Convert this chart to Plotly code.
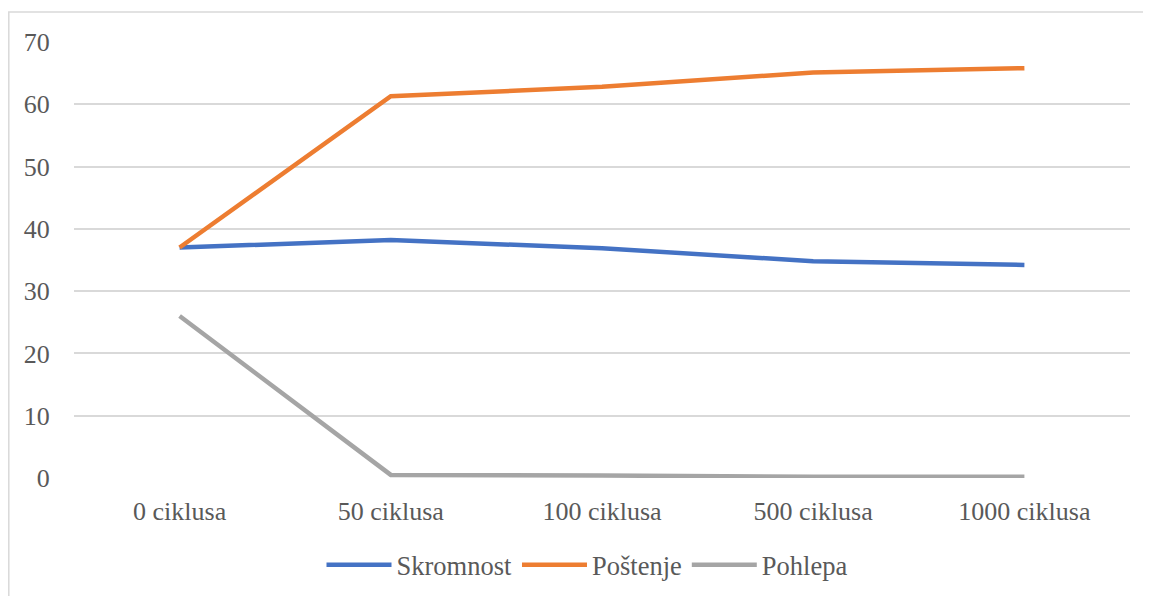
import plotly.graph_objects as go

categories = ["0 ciklusa", "50 ciklusa", "100 ciklusa", "500 ciklusa", "1000 ciklusa"]
skromnost = [37.0, 38.2, 36.9, 34.8, 34.2]
postenje = [37.0, 61.3, 62.8, 65.1, 65.8]
pohlepa = [26.0, 0.5, 0.4, 0.2, 0.2]

series = [
    ("Skromnost", skromnost, "#4472C4"),
    ("Poštenje", postenje, "#ED7D31"),
    ("Pohlepa", pohlepa, "#A5A5A5"),
]

fig = go.Figure()
for name, vals, color in series:
    fig.add_trace(go.Scatter(
        x=categories, y=vals, name=name, mode="lines",
        line=dict(color=color, width=4.5),
    ))

FAMILY = "Liberation Serif"
font = dict(family=FAMILY, size=26, color="#595959")

W, H = 1143, 588
L, R, T, B = 66, 21, 34, 118
PW, PH = W - L - R, H - T - B

fig.update_layout(
    template="none",
    width=W, height=H,
    margin=dict(l=L, r=R, t=T, b=B, autoexpand=False),
    paper_bgcolor="white", plot_bgcolor="white",
    font=font,
    showlegend=True,
    legend=dict(
        orientation="h", x=(579 - L) / PW, xanchor="center", y=-87 / PH, yanchor="middle",
        font=dict(family=FAMILY, size=26.5, color="#595959"),
        itemwidth=65, traceorder="normal",
    ),
    xaxis=dict(
        type="category", showgrid=False, zeroline=False, showline=False,
        ticks="outside", ticklen=10, tickcolor="rgba(0,0,0,0)",
        tickfont=font, range=[-0.5, 4.5],
    ),
    yaxis=dict(
        range=[0, 70], dtick=10, showgrid=True, gridcolor="#D9D9D9", gridwidth=1.5,
        zeroline=False, showline=False,
        ticks="outside", ticklen=18, tickcolor="rgba(0,0,0,0)",
        tickfont=font,
    ),
    shapes=[dict(
        type="rect", xref="paper", yref="paper",
        x0=(0.8 - L) / PW, x1=1.05, y0=-0.5, y1=1 + 30 / PH,
        line=dict(color="#D9D9D9", width=1.5), layer="below",
    )],
)

fig.write_html("out.html")
